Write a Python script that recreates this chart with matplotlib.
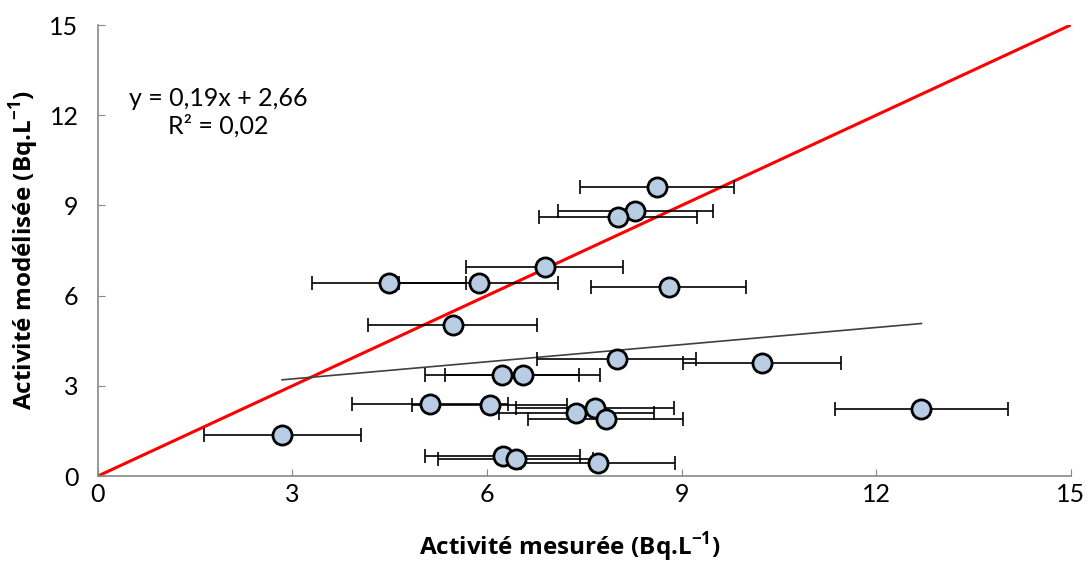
import numpy as np
import matplotlib
matplotlib.use("Agg")
from matplotlib import pyplot as plt

plt.rcParams['font.family'] = ['Lato', 'DejaVu Sans']
plt.rcParams['mathtext.fontset'] = 'custom'
plt.rcParams['mathtext.rm'] = 'Open Sans'
plt.rcParams['mathtext.bf'] = 'Open Sans:bold'

# measured activity (x), modelled activity (y), error on measured value
measured = [8.62, 8.29, 8.02, 6.89, 4.49, 5.87, 8.80, 5.47, 8.00, 10.24,
            6.23, 6.55, 5.12, 6.04, 7.38, 7.66, 7.83, 12.70, 2.84,
            6.24, 6.44, 7.71]
modelled = [9.61, 8.81, 8.61, 6.95, 6.42, 6.42, 6.28, 5.02, 3.89, 3.76,
            3.36, 3.36, 2.39, 2.37, 2.09, 2.26, 1.89, 2.23, 1.36,
            0.67, 0.57, 0.43]
err = [1.19, 1.19, 1.22, 1.21, 1.19, 1.22, 1.19, 1.30, 1.23, 1.22,
       1.19, 1.20, 1.20, 1.19, 1.20, 1.22, 1.19, 1.33, 1.21,
       1.19, 1.20, 1.19]

slope = 0.19
intercept = 2.66
r2 = 0.02

ticks = [0, 3, 6, 9, 12, 15]


def main():
    fig = plt.figure(figsize=(10.88, 5.63), dpi=100)
    ax = fig.add_axes([0.090, 0.1545, 0.894, 0.801])

    x = np.array(measured)
    y = np.array(modelled)

    # 1:1 line
    ax.plot([0, 15], [0, 15], color='#ff0000', lw=2.2, zorder=2)

    # linear trend over the data range
    tx = np.array([x.min(), x.max()])
    ax.plot(tx, slope * tx + intercept, color='#404040', lw=1.2, zorder=2)

    ax.errorbar(x, y, xerr=err, fmt='none', ecolor='black', elinewidth=1.2,
                capsize=5, capthick=1.2, zorder=3)
    ax.scatter(x, y, s=190, facecolor='#b8cce4', edgecolor='black',
               linewidth=2, zorder=4)

    ax.text(1.85, 12.1, 'y = 0,19x + 2,66\nR² = 0,02', ha='center', va='center',
            fontsize=18, linespacing=1.2)

    ax.set_xlim(0, 15)
    ax.set_ylim(0, 15)
    ax.set_xticks(ticks)
    ax.set_yticks(ticks)
    ax.tick_params(direction='in', length=5, color='#888888', labelsize=18)
    ax.tick_params(axis='y', pad=14)
    ax.tick_params(axis='x', pad=5)
    for s in ['top', 'right']:
        ax.spines[s].set_visible(False)
    for s in ['left', 'bottom']:
        ax.spines[s].set_color('#888888')
        ax.spines[s].set_linewidth(1.2)

    lab = dict(fontsize=17.5, fontweight='bold', family=['Open Sans', 'DejaVu Sans'])
    ax.set_xlabel('Activité mesurée (Bq.L$^{\\mathbf{-1}}$)', **lab)
    ax.set_ylabel('Activité modélisée (Bq.L$^{\\mathbf{-1}}$)', labelpad=6, **lab)
    ax.xaxis.set_label_coords(0.485, -0.12)

    fig.savefig('out.png', dpi=100)


if __name__ == "__main__":
    main()
